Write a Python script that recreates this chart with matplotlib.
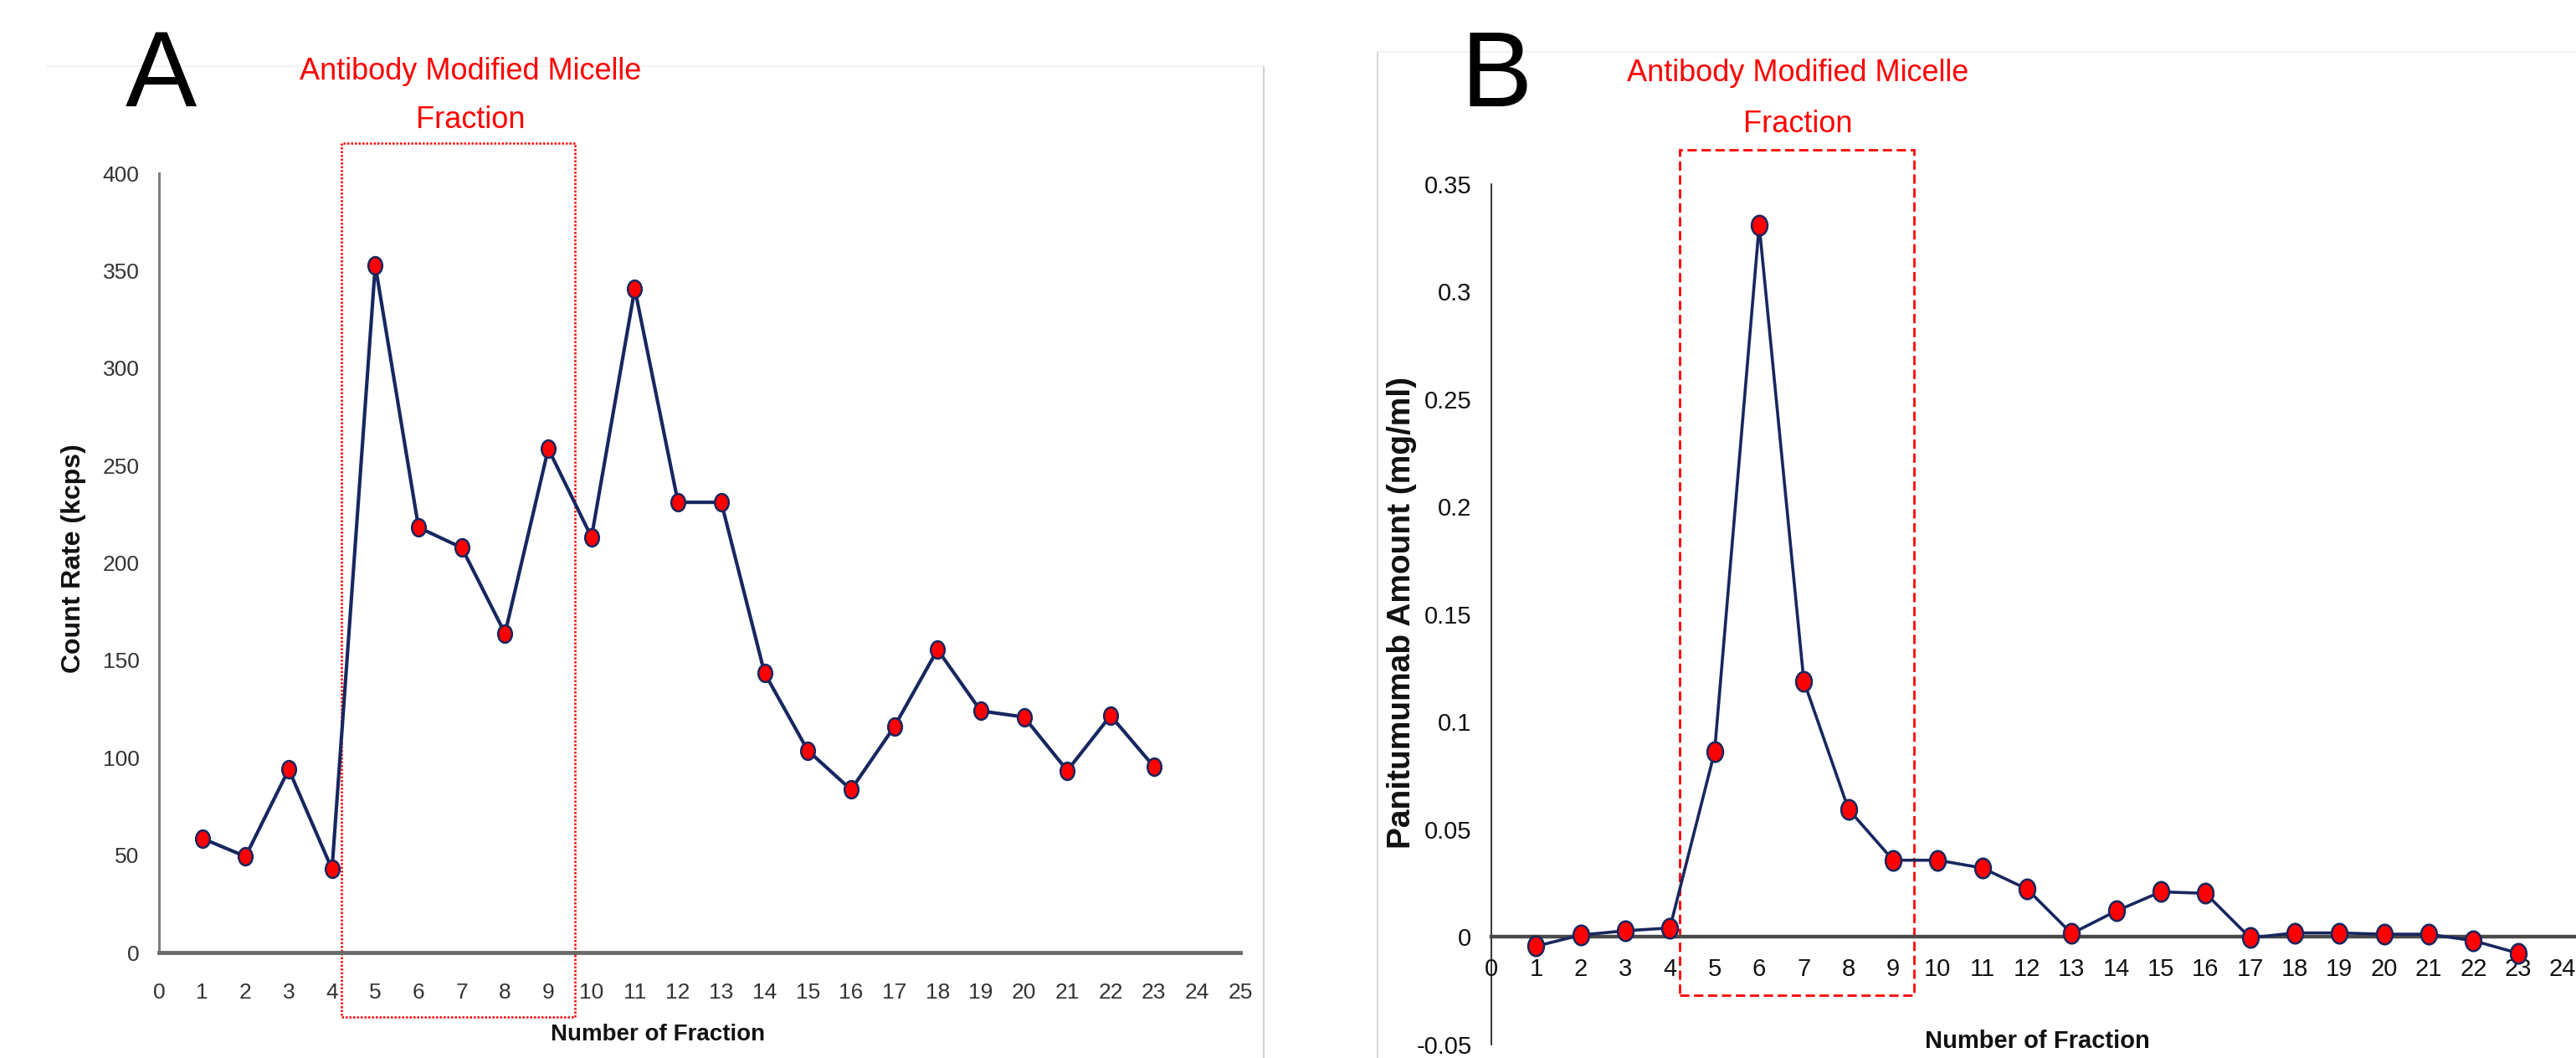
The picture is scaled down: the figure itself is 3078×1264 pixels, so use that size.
import matplotlib
matplotlib.use("Agg")
import matplotlib.pyplot as plt
from matplotlib.patches import Rectangle
from matplotlib.lines import Line2D
from matplotlib.path import Path
from matplotlib.transforms import Affine2D

# ---------------- data ----------------
fractions = list(range(1, 24))
count_rate = [58.6, 49.3, 94.0, 42.8, 352.8, 218.2, 207.8, 163.8, 258.6, 213.2,
              340.7, 231.1, 231.1, 143.5, 103.7, 83.6, 115.9, 155.5, 124.0, 120.9,
              93.4, 121.6, 95.5]
panitumumab = [-0.0043, 0.0009, 0.0029, 0.0042, 0.086, 0.331, 0.119, 0.0594, 0.0357,
               0.0357, 0.0321, 0.0223, 0.0016, 0.0121, 0.0210, 0.0203, -0.0004, 0.0019,
               0.0019, 0.0013, 0.0013, -0.0017, -0.0075]
a_xticks = list(range(0, 26))
a_yticks = [0, 50, 100, 150, 200, 250, 300, 350, 400]
b_xticks = list(range(0, 25))
b_yticks = [-0.05, 0, 0.05, 0.1, 0.15, 0.2, 0.25, 0.3, 0.35]
b_yticklabels = ["-0.05", "0", "0.05", "0.1", "0.15", "0.2", "0.25", "0.3", "0.35"]
annot_title = "Antibody Modified Micelle"
annot_title2 = "Fraction"
xlabel = "Number of Fraction"
a_ylabel = "Count Rate (kcps)"
b_ylabel = "Panitumumab Amount (mg/ml)"
# highlighted fraction window (annotation, in data units)
a_box = (4.21, 9.62, -33.0, 415.4)
b_box = (4.21, 9.47, -0.0272, 0.366)

FONT = "Liberation Sans"
plt.rcParams["font.family"] = [FONT, "DejaVu Sans"]

NAVY = "#17275F"
RED = "#FF0000"

ellipse = Path(Affine2D().scale(0.8, 1.0).transform(Path.unit_circle().vertices),
               Path.unit_circle().codes)

fig = plt.figure(figsize=(30.78, 12.64), dpi=100)

# ---------------- panel A ----------------
axA = fig.add_axes([0.06173, 0.09968, 0.41975, 0.73655])
axA.plot(fractions, count_rate, color=NAVY, lw=3.0, marker=ellipse, markersize=15,
         markerfacecolor=RED, markeredgecolor=NAVY, markeredgewidth=1.8, zorder=3)
axA.set_xlim(0, 25)
axA.set_ylim(0, 400)
axA.set_xticks(a_xticks)
axA.set_yticks(a_yticks)
for s in ["top", "right"]:
    axA.spines[s].set_visible(False)
axA.spines["left"].set_color("#7f7f7f")
axA.spines["left"].set_linewidth(2.2)
axA.spines["bottom"].set_color("#6a6a6a")
axA.spines["bottom"].set_linewidth(3.5)
axA.tick_params(axis="both", length=0, colors="#333333", labelsize=19)
axA.tick_params(axis="x", pad=26)
axA.tick_params(axis="y", pad=17)
axA.set_xlabel(xlabel, fontsize=20, fontweight="bold", color="#111111")
axA.xaxis.label.set_va("baseline")
axA.xaxis.set_label_coords(0.4613, -0.1128)
axA.set_ylabel(a_ylabel, fontweight="bold", fontsize=23, color="#111111")
axA.yaxis.label.set_va("center")
axA.yaxis.set_label_coords(-0.079, 0.506)
x0, x1, y0, y1 = a_box
axA.add_patch(Rectangle((x0, y0), x1 - x0, y1 - y0, fill=False, edgecolor=RED,
                        lw=1.8, linestyle=(0, (1, 0.8)), clip_on=False, zorder=2))

# ---------------- panel B ----------------
axB = fig.add_axes([0.57895, 0.0127, 0.42105, 0.81329])
axB.plot(fractions, panitumumab, color=NAVY, lw=2.6, marker=ellipse, markersize=17,
         markerfacecolor=RED, markeredgecolor=NAVY, markeredgewidth=1.8, zorder=3)
axB.set_xlim(0, 24.3)
axB.set_ylim(-0.05, 0.35)
axB.set_xticks(b_xticks)
axB.set_yticks(b_yticks)
axB.set_yticklabels(b_yticklabels)
for s in ["top", "right"]:
    axB.spines[s].set_visible(False)
axB.spines["bottom"].set_position(("data", 0))
axB.spines["bottom"].set_color("#4a4a4a")
axB.spines["bottom"].set_linewidth(3.2)
axB.spines["left"].set_color("#111111")
axB.spines["left"].set_linewidth(1.2)
axB.tick_params(axis="both", length=0, colors="#111111", labelsize=21)
axB.tick_params(axis="x", pad=18)
axB.tick_params(axis="y", pad=17)
axB.set_xlabel(xlabel, fontsize=21, fontweight="bold", color="#111111")
axB.xaxis.label.set_va("baseline")
axB.xaxis.set_label_coords(0.503, -0.004)
axB.set_ylabel(b_ylabel, fontweight="bold", fontsize=28, color="#111111")
axB.yaxis.label.set_va("center")
axB.yaxis.set_label_coords(-0.0826, 0.502)
x0, x1, y0, y1 = b_box
axB.add_patch(Rectangle((x0, y0), x1 - x0, y1 - y0, fill=False, edgecolor=RED,
                        lw=2.0, linestyle=(0, (4, 2)), clip_on=False, zorder=2))

# ---------------- annotations / panel letters ----------------
fig.text(562 / 3078, 1 - 95 / 1264, annot_title, color=RED, fontsize=26,
         ha="center", va="baseline")
fig.text(562 / 3078, 1 - 153 / 1264, annot_title2, color=RED, fontsize=26,
         ha="center", va="baseline")
fig.text(2148 / 3078, 1 - 97 / 1264, annot_title, color=RED, fontsize=26,
         ha="center", va="baseline")
fig.text(2148 / 3078, 1 - 158 / 1264, annot_title2, color=RED, fontsize=26,
         ha="center", va="baseline")
fig.text(150 / 3078, 1 - 127 / 1264, "A", color="black", fontsize=92,
         ha="left", va="baseline")
fig.text(1745 / 3078, 1 - 127 / 1264, "B", color="black", fontsize=92,
         ha="left", va="baseline")

# faint panel borders
fig.add_artist(Line2D([1510 / 3078, 1510 / 3078], [0, 1 - 79 / 1264],
                      transform=fig.transFigure, color="#c8c8c8", lw=1.2))
fig.add_artist(Line2D([56 / 3078, 1510 / 3078], [1 - 79 / 1264, 1 - 79 / 1264],
                      transform=fig.transFigure, color="#f0f0f0", lw=1.2))
fig.add_artist(Line2D([1646 / 3078, 1646 / 3078], [0, 1 - 62 / 1264],
                      transform=fig.transFigure, color="#cccccc", lw=1.2))
fig.add_artist(Line2D([1646 / 3078, 1.0], [1 - 62 / 1264, 1 - 62 / 1264],
                      transform=fig.transFigure, color="#f0f0f0", lw=1.2))

fig.savefig("out.png", dpi=100, facecolor="white")
